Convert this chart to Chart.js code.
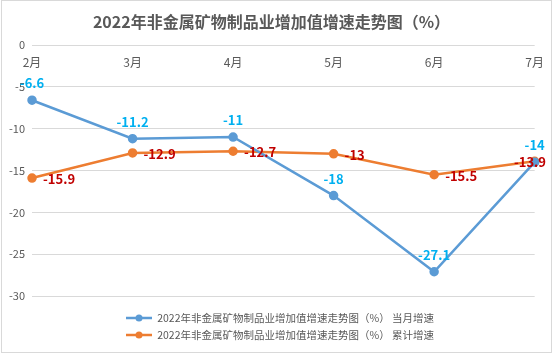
<!DOCTYPE html>
<html>
<head>
<meta charset="utf-8">
<script src="https://cdn.jsdelivr.net/npm/chart.js@4/dist/chart.umd.min.js"></script>
<style>
html,body{margin:0;padding:0;background:#fff;}
#wrap{width:554px;height:355px;position:relative;}
</style>
</head>
<body>
<div id="wrap"><canvas id="c" width="554" height="355"></canvas></div>
<script>
const months = ['2月','3月','4月','5月','6月','7月'];
const monthlyGrowth = [-6.6, -11.2, -11, -18, -27.1, -14];
const cumulativeGrowth = [-15.9, -12.9, -12.7, -13, -15.5, -13.9];
const yTicks = [0, -5, -10, -15, -20, -25, -30];
const titleText = '2022年非金属矿物制品业增加值增速走势图（%）';
const seriesNames = ['2022年非金属矿物制品业增加值增速走势图（%） 当月增速', '2022年非金属矿物制品业增加值增速走势图（%） 累计增速'];

const FONT = "'Noto Sans CJK SC', 'Noto Sans', sans-serif";
const BLUE = '#5b9bd5', ORANGE = '#ed7d31';

function makeMarker(color){
  const c = document.createElement('canvas');
  c.width = 26; c.height = 10;
  const g = c.getContext('2d');
  g.strokeStyle = color; g.lineWidth = 2.5;
  g.beginPath(); g.moveTo(0,5); g.lineTo(26,5); g.stroke();
  g.fillStyle = color; g.beginPath(); g.arc(13,5,3.5,0,Math.PI*2); g.fill();
  return c;
}
const markers = [makeMarker(BLUE), makeMarker(ORANGE)];

const labelPlugin = {
  id: 'valueLabels',
  afterDatasetsDraw(chart){
    const ctx = chart.ctx;
    ctx.save();
    ctx.font = 'bold 13px ' + FONT;
    ctx.textBaseline = 'middle';
    chart.data.datasets.forEach((ds, di) => {
      const meta = chart.getDatasetMeta(di);
      meta.data.forEach((pt, i) => {
        const txt = String(ds.data[i]);
        const w = ctx.measureText(txt).width;
        if (di === 0) {
          ctx.fillStyle = '#00b0f0';
          ctx.textAlign = 'center';
          ctx.fillText(txt, pt.x, pt.y - 17);
        } else {
          ctx.fillStyle = '#c00000';
          ctx.textAlign = 'left';
          let x = pt.x + 11;
          if (x + w > chart.width - 8) x = chart.width - 8 - w;
          ctx.fillText(txt, x, pt.y + 1);
        }
      });
    });
    ctx.restore();
  }
};

const boxShift = {
  id: 'boxShift',
  afterLayout(chart){
    const lg = chart.legend;
    lg.left += 11.5; lg.right += 11.5;
    const tb = chart.titleBlock;
    if (tb) { tb.left += 3; tb.right += 3; }
  }
};

const borderPlugin = {
  id: 'outerBorder',
  afterDraw(chart){
    const ctx = chart.ctx;
    ctx.save();
    ctx.strokeStyle = '#d9d9d9';
    ctx.lineWidth = 1;
    ctx.strokeRect(1.5, 0.5, chart.width - 4, chart.height - 3);
    ctx.restore();
  }
};

new Chart(document.getElementById('c'), {
  type: 'line',
  data: {
    labels: months,
    datasets: [
      { label: seriesNames[0], data: monthlyGrowth, borderColor: BLUE, backgroundColor: BLUE,
        borderWidth: 2.5, pointRadius: 3.5, pointBackgroundColor: BLUE, pointBorderColor: BLUE, tension: 0 },
      { label: seriesNames[1], data: cumulativeGrowth, borderColor: ORANGE, backgroundColor: ORANGE,
        borderWidth: 2.5, pointRadius: 3.5, pointBackgroundColor: ORANGE, pointBorderColor: ORANGE, tension: 0 }
    ]
  },
  options: {
    responsive: false,
    animation: false,
    layout: { padding: { top: 10, left: 2, right: 19, bottom: 4.75 } },
    scales: {
      x: {
        position: { y: 0 },
        offset: false,
        grid: { display: false, drawTicks: false },
        border: { display: false },
        ticks: { color: '#595959', font: { family: FONT, size: 12 }, padding: 10, maxRotation: 0 }
      },
      y: {
        min: -30, max: 0,
        afterBuildTicks(axis){ axis.ticks = yTicks.map(v => ({ value: v })); },
        grid: { color: '#d9d9d9', lineWidth: 1, drawTicks: false },
        border: { display: false },
        ticks: { color: '#595959', font: { family: FONT, size: 11 }, padding: 7 }
      }
    },
    plugins: {
      title: { display: true, text: titleText, color: '#595959',
        font: { family: FONT, size: 16, weight: 'bold' }, padding: { top: 2, bottom: 13.8 } },
      legend: {
        display: true, position: 'bottom',
        title: { display: true, text: '', font: { size: 1 }, padding: { top: 9.05, bottom: 0 } },
        labels: {
          color: '#595959', font: { family: FONT, size: 10.5 }, padding: 6.5,
          usePointStyle: true, pointStyleWidth: 26, boxHeight: 10,
          generateLabels(chart){
            const items = Chart.defaults.plugins.legend.labels.generateLabels(chart);
            items.forEach((it, i) => { it.pointStyle = markers[i]; });
            return items;
          }
        }
      },
      tooltip: { enabled: false }
    }
  },
  plugins: [labelPlugin, boxShift, borderPlugin]
});
</script>
</body>
</html>
